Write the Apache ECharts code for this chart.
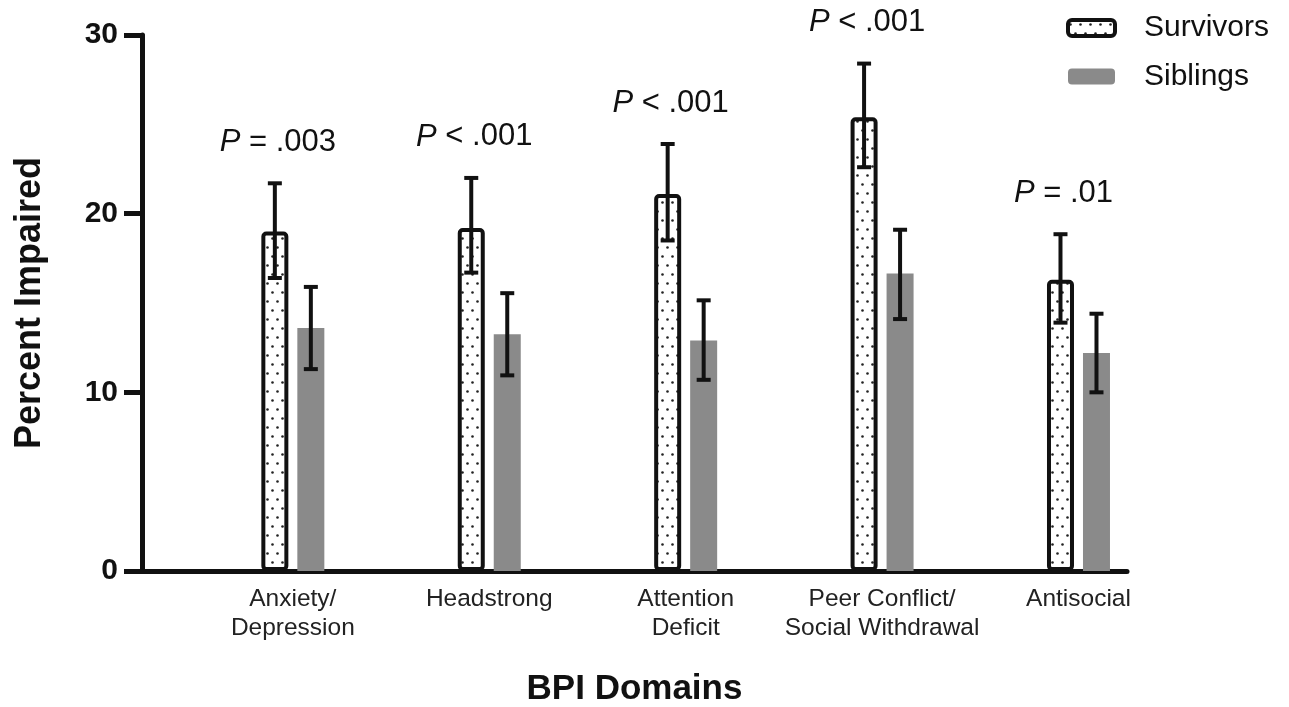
<!DOCTYPE html>
<html>
<head>
<meta charset="utf-8">
<script src="https://cdn.jsdelivr.net/npm/echarts@6/dist/echarts.min.js"></script>
<style>html,body{margin:0;padding:0;background:#fff}#c{width:1289px;height:707px}</style>
</head>
<body>
<div id="c"></div>
<script>
const categories = ['Anxiety/\nDepression', 'Headstrong', 'Attention\nDeficit', 'Peer Conflict/\nSocial Withdrawal', 'Antisocial'];
const survivors = [19.0, 19.2, 21.1, 25.4, 16.3];
const survivorsLow = [16.4, 16.7, 18.5, 22.6, 13.9];
const survivorsHigh = [21.7, 22.0, 23.9, 28.4, 18.85];
const siblings = [13.6, 13.25, 12.9, 16.65, 12.2];
const siblingsLow = [11.3, 10.95, 10.7, 14.1, 10.0];
const siblingsHigh = [15.9, 15.55, 15.15, 19.1, 14.4];
const pLabels = ['= .003', '< .001', '< .001', '< .001', '= .01'];
const yTicks = [0, 10, 20, 30];

const FONT = '"Liberation Sans", Arial, sans-serif';

// dotted pattern
const pc = document.createElement('canvas');
pc.width = 10; pc.height = 18;
const g = pc.getContext('2d');
g.fillStyle = '#fff'; g.fillRect(0, 0, 10, 18);
g.fillStyle = '#222';
[[2.5, 4.5], [7.5, 13.5]].forEach(p => { g.beginPath(); g.arc(p[0], p[1], 1.3, 0, Math.PI * 2); g.fill(); });
const pattern = { image: pc, repeat: 'repeat' };

const chart = echarts.init(document.getElementById('c'));

function errSeries(low, high, offset, withText) {
  return {
    type: 'custom',
    z: 5,
    silent: true,
    data: low.map((l, i) => [i, l, high[i]]),
    encode: { x: 0, y: [1, 2] },
    renderItem: function (params, api) {
      const i = api.value(0);
      const pl = api.coord([i, api.value(1)]);
      const ph = api.coord([i, api.value(2)]);
      const cx = pl[0] + offset;
      const st = { stroke: '#111', lineWidth: 4 };
      const children = [
        { type: 'line', shape: { x1: cx, y1: ph[1], x2: cx, y2: pl[1] }, style: st },
        { type: 'line', shape: { x1: cx - 7, y1: ph[1], x2: cx + 7, y2: ph[1] }, style: st },
        { type: 'line', shape: { x1: cx - 7, y1: pl[1], x2: cx + 7, y2: pl[1] }, style: st }
      ];
      if (withText) {
        children.push({
          type: 'text',
          style: {
            x: cx + 3, y: ph[1] - 41,
            text: '{i|P} ' + pLabels[params.dataIndex],
            align: 'center', verticalAlign: 'middle',
            fill: '#111', font: '31px ' + FONT,
            rich: { i: { fontStyle: 'italic', fontSize: 31, fontFamily: FONT, fill: '#111' } }
          }
        });
      }
      return { type: 'group', children };
    }
  };
}

chart.setOption({
  animation: false,
  backgroundColor: '#fff',
  textStyle: { fontFamily: FONT },
  grid: { left: 142, right: 1289 - 1127, top: 35, bottom: 707 - 571, containLabel: false, outerBoundsMode: 'none' },
  legend: {
    orient: 'vertical', left: 1061, top: 8,
    itemWidth: 47, itemHeight: 16, itemGap: 18.5,
    textStyle: { fontSize: 30, color: '#111', fontFamily: FONT, padding: [0, 0, 0, 24] },
    data: [
      { name: 'Survivors', itemStyle: { color: pattern, borderColor: '#111', borderWidth: 4, borderRadius: 3 } },
      { name: 'Siblings', itemStyle: { color: '#8a8a8a', borderWidth: 0 } }
    ]
  },
  xAxis: {
    type: 'value', min: -0.768, max: 4.247,
    name: 'BPI Domains', nameLocation: 'middle', nameGap: 101,
    nameTextStyle: { fontSize: 35, fontWeight: 'bold', color: '#111', fontFamily: FONT },
    axisLine: { show: true, onZero: true, lineStyle: { color: '#111', width: 5 } },
    axisTick: { show: false },
    splitLine: { show: false },
    axisLabel: {
      customValues: [0, 1, 2, 3, 4],
      formatter: v => categories[Math.round(v)] || '',
      fontSize: 24.5, color: '#222', lineHeight: 29, margin: 14, fontFamily: FONT
    }
  },
  yAxis: {
    type: 'value', min: 0, max: 30, interval: 10,
    name: 'Percent Impaired', nameLocation: 'middle', nameGap: 94, nameRotate: 90,
    nameTextStyle: { fontSize: 36, fontWeight: 'bold', color: '#111', fontFamily: FONT },
    axisLine: { show: true, onZero: false, lineStyle: { color: '#111', width: 5 } },
    axisTick: { show: true, length: 18, lineStyle: { color: '#111', width: 5 } },
    splitLine: { show: false },
    axisLabel: {
      customValues: yTicks,
      fontSize: 30, fontWeight: 'bold', color: '#111', margin: 24, fontFamily: FONT
    }
  },
  series: [
    {
      name: 'Survivors', type: 'bar', barWidth: 27, barGap: '33.3%',
      itemStyle: { color: pattern, borderColor: '#111', borderWidth: 4, borderRadius: 3 },
      data: survivors.map((v, i) => [i, v]), z: 3
    },
    {
      name: 'Siblings', type: 'bar', barWidth: 27,
      itemStyle: { color: '#8a8a8a' },
      data: siblings.map((v, i) => [i, v]), z: 2
    },
    errSeries(survivorsLow, survivorsHigh, -18, true),
    errSeries(siblingsLow, siblingsHigh, 18, false)
  ]
});
</script>
</body>
</html>
